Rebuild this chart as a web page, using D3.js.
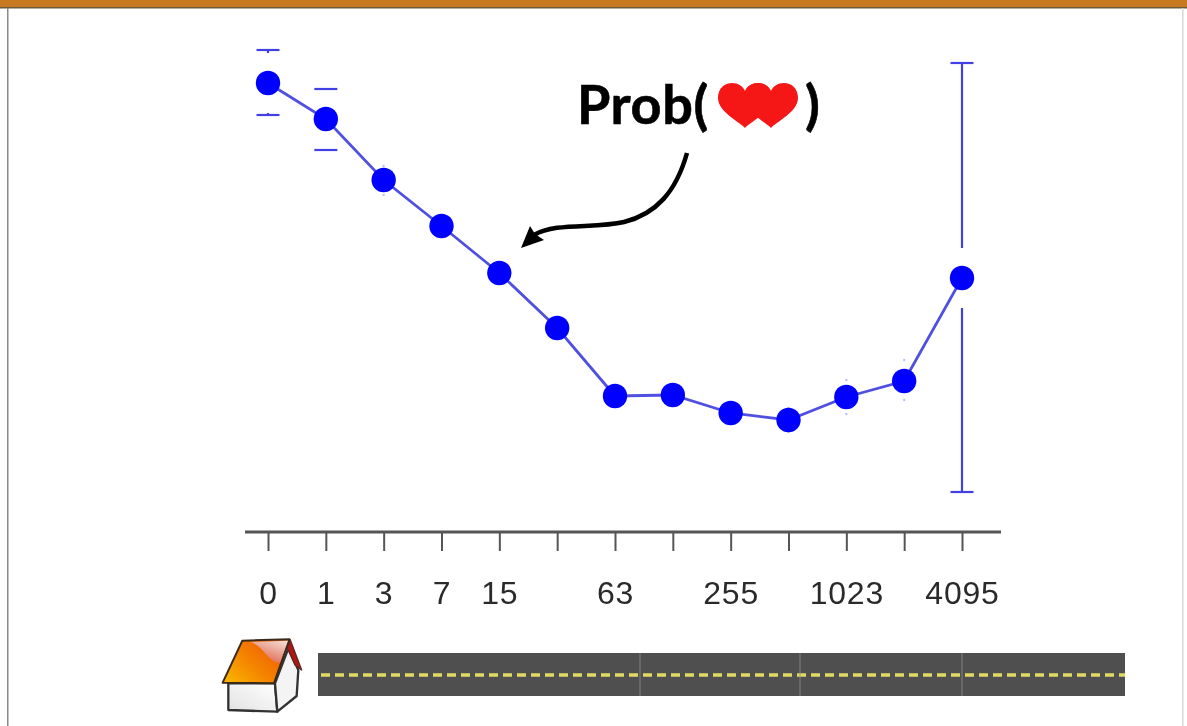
<!DOCTYPE html>
<html>
<head>
<meta charset="utf-8">
<script src="https://d3js.org/d3.v7.min.js"></script>
<style>
  html, body { margin: 0; padding: 0; background: #fff; }
  svg { display: block; }
  .axis path, .axis line { stroke: #555; }
  .axis text { font-family: "Liberation Sans", sans-serif; fill: #2b2b2b; }
</style>
</head>
<body>
<svg class="chart"></svg>
<script>
// bucket index, 0 to 12, only some of them get a label
let buckets = [0, 1, 2, 3, 4, 5, 6, 7, 8, 9, 10, 11, 12]
let bucketLabels = ['0', '1', '3', '7', '15', '', '63', '', '255', '', '1023', '', '4095']

let prob = [449, 413, 352, 306, 259, 204, 136, 137, 119, 112, 135, 151, 254]
let probHigh = [482, 443, 366, 316, 267, 210, 140, 141, 125, 124, 152, 172, 469]
let probLow = [417, 382, 337, 296, 251, 198, 132, 133, 113, 100, 118, 132, 40]

// x positions of the joins in the road picture
let roadJoins = [640, 800, 962]

let width = 1187
let height = 726
let axisY = 532

let svg = d3.select('.chart').attr('width', width).attr('height', height)

let defs = svg.append('defs')
let blur = defs.append('filter').attr('id', 'soft')
blur.append('feGaussianBlur').attr('stdDeviation', 0.6)

let roofGrad = defs.append('linearGradient').attr('id', 'roofGrad')
  .attr('x1', 0).attr('y1', 1).attr('x2', 1).attr('y2', 0.3)
roofGrad.append('stop').attr('offset', '0%').attr('stop-color', '#f9bb00')
roofGrad.append('stop').attr('offset', '50%').attr('stop-color', '#f58400')
roofGrad.append('stop').attr('offset', '100%').attr('stop-color', '#ee5a0a')

let shineGrad = defs.append('linearGradient').attr('id', 'shineGrad')
  .attr('x1', 1).attr('y1', 0).attr('x2', 0.4).attr('y2', 1)
shineGrad.append('stop').attr('offset', '0%').attr('stop-color', '#f3e2dc')
shineGrad.append('stop').attr('offset', '100%').attr('stop-color', '#e2664a')

let wallGrad = defs.append('linearGradient').attr('id', 'wallGrad')
  .attr('x1', 0).attr('y1', 1).attr('x2', 1).attr('y2', 0)
wallGrad.append('stop').attr('offset', '0%').attr('stop-color', '#e2e2e2')
wallGrad.append('stop').attr('offset', '100%').attr('stop-color', '#ffffff')

// slide frame
svg.append('rect').attr('x', 0).attr('y', 0).attr('width', width).attr('height', 8).attr('fill', '#c87a22')
svg.append('rect').attr('x', 0).attr('y', 7).attr('width', width).attr('height', 1.5).attr('fill', '#6d5a3c')
svg.append('rect').attr('x', 7).attr('y', 8).attr('width', 1.5).attr('height', height).attr('fill', '#8a8a8a')
svg.append('rect').attr('x', 1182).attr('y', 8).attr('width', 1.5).attr('height', height).attr('fill', '#d8d8d8')

let x = d3.scalePoint().domain(buckets).range([268, 962])
let y = d3.scaleLinear().domain([0, axisY]).range([axisY, 0])

let plot = svg.append('g').attr('filter', 'url(#soft)')

// axis
let xAxis = d3.axisBottom(x)
  .tickValues(buckets)
  .tickFormat(d => bucketLabels[d])
  .tickSizeInner(19)
  .tickSizeOuter(0)
  .tickPadding(30)

let axisG = plot.append('g').attr('class', 'axis')
  .attr('transform', 'translate(0,' + axisY + ')')
  .call(xAxis)

axisG.select('.domain')
  .attr('d', 'M245,0H1001')
  .attr('stroke-width', 3)
axisG.selectAll('.tick line').attr('stroke-width', 2)
axisG.selectAll('.tick text')
  .attr('font-size', 32)
  .style('letter-spacing', '0.8px')

// error bars, the stem stops short of the point
let gap = 30
let capped = buckets.filter(d => d < 2 || d === 12)
let stemColor = '#4040e4'

let bars = plot.append('g')
buckets.forEach(function (d) {
  let cy = y(prob[d])
  let top = y(probHigh[d])
  let bottom = y(probLow[d])
  let isCapped = capped.includes(d)
  let half = isCapped ? 11.5 : 1
  let opacity = isCapped ? 1 : 0.35
  ;[top, bottom].forEach(function (end) {
    bars.append('line')
      .attr('x1', x(d) - half).attr('x2', x(d) + half)
      .attr('y1', end).attr('y2', end)
      .attr('stroke', stemColor).attr('stroke-width', 2.2).attr('opacity', opacity)
  })
  if (cy - gap > top) {
    bars.append('line').attr('x1', x(d)).attr('x2', x(d))
      .attr('y1', top).attr('y2', cy - gap)
      .attr('stroke', stemColor).attr('stroke-width', 2.2)
  }
  if (cy + gap < bottom) {
    bars.append('line').attr('x1', x(d)).attr('x2', x(d))
      .attr('y1', cy + gap).attr('y2', bottom)
      .attr('stroke', stemColor).attr('stroke-width', 2.2)
  }
})

// line and points
let line = d3.line().x(d => x(d)).y(d => y(prob[d]))

plot.append('path')
  .attr('d', line(buckets))
  .attr('fill', 'none')
  .attr('stroke', '#5050e0')
  .attr('stroke-width', 2.8)

plot.selectAll('.point')
  .data(buckets)
  .enter()
  .append('circle')
  .attr('class', 'point')
  .attr('cx', d => x(d))
  .attr('cy', d => y(prob[d]))
  .attr('r', 12.2)
  .attr('fill', '#0000ff')

// label with the two hearts
let note = svg.append('g').attr('filter', 'url(#soft)')

note.append('text')
  .attr('x', 577).attr('y', 124)
  .attr('font-family', 'Lato, sans-serif')
  .attr('font-weight', 700)
  .attr('font-size', 54)
  .attr('fill', '#000')
  .attr('stroke', '#000')
  .attr('stroke-width', 0.6)
  .style('letter-spacing', '0.6px')
  .text('Prob(')

note.append('text')
  .attr('x', 805).attr('y', 124)
  .attr('font-family', 'Lato, sans-serif')
  .attr('font-weight', 700)
  .attr('font-size', 54)
  .attr('fill', '#000')
  .attr('stroke', '#000')
  .attr('stroke-width', 0.6)
  .text(')')

let heart = 'M0,22 C-5,16 -27,6 -27,-8 C-27,-18 -20,-23 -13,-23 C-7,-23 -2,-20 0,-15 C2,-20 7,-23 13,-23 C20,-23 27,-18 27,-8 C27,6 5,16 0,22 Z'
note.selectAll('.heart')
  .data([745, 771])
  .enter()
  .append('path')
  .attr('class', 'heart')
  .attr('transform', d => 'translate(' + d + ',106)')
  .attr('d', heart)
  .attr('fill', '#f51414')

// arrow
note.append('path')
  .attr('d', 'M687,153 C676,192 656,214 624,222 C594,229 556,222 534,235')
  .attr('fill', 'none')
  .attr('stroke', '#000')
  .attr('stroke-width', 4.5)

note.append('path')
  .attr('d', 'M521,248 L530,226 L535,234 L544,240 Z')
  .attr('fill', '#000')

// road
let road = svg.append('g').attr('filter', 'url(#soft)')

road.append('rect')
  .attr('x', 318).attr('y', 653)
  .attr('width', 807).attr('height', 43)
  .attr('fill', '#505050')

road.append('line')
  .attr('x1', 321).attr('x2', 1125)
  .attr('y1', 675).attr('y2', 675)
  .attr('stroke', '#e0da62')
  .attr('stroke-width', 3.4)
  .attr('stroke-dasharray', '9,5')

road.selectAll('.join')
  .data(roadJoins)
  .enter()
  .append('line')
  .attr('class', 'join')
  .attr('x1', d => d).attr('x2', d => d)
  .attr('y1', 653).attr('y2', 696)
  .attr('stroke', '#8c8c8c')
  .attr('stroke-width', 0.8)

// house, drawn in the coordinates of a 3x crop
let house = svg.append('g')
  .attr('transform', 'translate(200,620) scale(0.3333)')
  .attr('filter', 'url(#soft)')
  .attr('stroke-linejoin', 'round')

house.append('path')
  .attr('d', 'M85,190 L225,190 L232,275 L85,270 Z')
  .attr('fill', 'url(#wallGrad)')
  .attr('stroke', '#333').attr('stroke-width', 7)
house.append('path')
  .attr('d', 'M225,190 L265,85 L295,150 L290,228 L232,275 Z')
  .attr('fill', '#f4f4f4')
  .attr('stroke', '#333').attr('stroke-width', 7)
house.append('path')
  .attr('d', 'M270,58 L305,150 L285,135 L262,85 Z')
  .attr('fill', '#b01818')
  .attr('stroke', '#5a2a20').attr('stroke-width', 4)
house.append('path')
  .attr('d', 'M68,188 L127,62 L268,58 L222,190 Z')
  .attr('fill', 'url(#roofGrad)')
  .attr('stroke', '#3a2a1a').attr('stroke-width', 6)
house.append('path')
  .attr('d', 'M150,66 L264,62 L240,128 C205,130 190,75 150,66 Z')
  .attr('fill', 'url(#shineGrad)')
</script>
</body>
</html>
